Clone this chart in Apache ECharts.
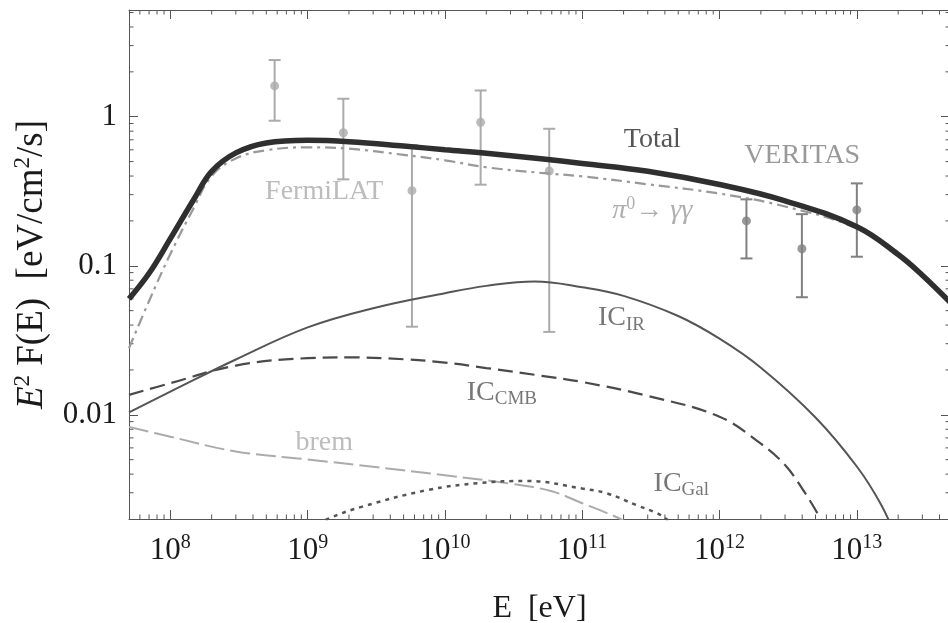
<!DOCTYPE html>
<html>
<head>
<meta charset="utf-8">
<script src="https://cdn.jsdelivr.net/npm/echarts@6/dist/echarts.min.js"></script>
<style>
  html, body { margin: 0; padding: 0; background: #fff; }
  #chart { width: 948px; height: 623px; }
</style>
</head>
<body>
<div id="chart"></div>
<script>
var FONT = '"Liberation Serif", "Times New Roman", serif';

// axis ranges and tick labels
var xMin = 5e7, xMax = 4.77e13;
var yMin = 0.002, yMax = 5.2;
var xMajorExp = [8, 9, 10, 11, 12, 13];
var yMajorVal = [0.01, 0.1, 1];
var yMajorText = ['0.01', '0.1', '1'];
var mantissas = [2, 3, 4, 5, 6, 7, 8, 9];

// model curves (E in eV, E^2 F(E) in eV/cm^2/s)
var totalE = [5e7, 7e7, 1e8, 1.5e8, 2e8, 3e8, 5e8, 1e9, 2e9, 5e9, 1e10, 2e10, 5e10, 1e11, 3e11, 1e12, 3e12, 1e13, 2e13, 3e13, 4.77e13];
var totalF = [0.060, 0.089, 0.152, 0.284, 0.43, 0.572, 0.667, 0.695, 0.68, 0.636, 0.60, 0.568, 0.522, 0.486, 0.431, 0.351, 0.273, 0.183, 0.119, 0.0865, 0.057];

var pionE = [5e7, 7e7, 1e8, 1.5e8, 2e8, 3e8, 5e8, 1e9, 2e9, 5e9, 1e10, 2e10, 5e10, 1e11, 3e11, 1e12, 3e12, 1e13, 2e13, 3e13, 4.77e13];
var pionF = [0.028, 0.058, 0.12, 0.25, 0.40, 0.525, 0.596, 0.623, 0.61, 0.555, 0.51, 0.458, 0.42, 0.398, 0.352, 0.305, 0.25, 0.178, 0.1175, 0.0855, 0.0565];

var icIrE = [5e7, 1e8, 3e8, 1e9, 3e9, 1e10, 2e10, 4.5e10, 1e11, 2e11, 5e11, 1e12, 2e12, 5e12, 1e13, 1.5e13, 2e13];
var icIrF = [0.0104, 0.0143, 0.0235, 0.0386, 0.0519, 0.0655, 0.0733, 0.0785, 0.0718, 0.0628, 0.046, 0.0324, 0.0207, 0.0096, 0.0045, 0.0025, 0.0014];

var icCmbE = [5e7, 1e8, 3e8, 1e9, 2e9, 5e9, 1e10, 2e10, 5e10, 1e11, 3e11, 1e12, 2e12, 3e12, 4e12, 5e12, 6e12];
var icCmbF = [0.0136, 0.0163, 0.0214, 0.024, 0.0243, 0.0236, 0.0224, 0.0206, 0.0183, 0.0166, 0.0134, 0.0097, 0.0064, 0.0046, 0.0032, 0.0023, 0.0017];

var bremE = [5e7, 1e8, 3e8, 1e9, 3e9, 1e10, 3e10, 6e10, 1e11, 1.5e11, 2e11, 2.5e11];
var bremF = [0.0083, 0.00713, 0.00568, 0.00502, 0.00448, 0.00393, 0.00345, 0.00307, 0.00255, 0.0022, 0.00195, 0.0017];

var icGalE = [1.2e9, 1.4e9, 2.5e9, 7.5e9, 1.74e10, 4e10, 1e11, 1.5e11, 2.5e11, 3.5e11, 4.1e11, 5e11];
var icGalF = [0.0018, 0.002, 0.00242, 0.00313, 0.00348, 0.0036, 0.0032, 0.00298, 0.00247, 0.00219, 0.002, 0.0017];

// data points with error bars
var fermiE = [5.75e8, 1.82e9, 5.75e9, 1.82e10, 5.75e10];
var fermiF = [1.61, 0.78, 0.319, 0.917, 0.432];
var fermiLo = [0.94, 0.38, 0.039, 0.35, 0.036];
var fermiHi = [2.4, 1.32, 0.645, 1.50, 0.83];

var veritasE = [1.57e12, 3.98e12, 1e13];
var veritasF = [0.2, 0.13, 0.237];
var veritasLo = [0.112, 0.0615, 0.115];
var veritasHi = [0.279, 0.222, 0.357];

// curve labels
var labelText = ['Total', 'VERITAS', '{i|\u03c0}{sup|0}\u2192 {i|\u03b3\u03b3}', 'FermiLAT', '{n|IC}{sub|IR}', '{n|IC}{sub|CMB}', 'brem', '{n|IC}{sub|Gal}'];
var labelE = [3.24e11, 4.0e12, 3.24e11, 1.32e9, 1.93e11, 2.6e10, 1.32e9, 5.27e11];
var labelF = [0.698, 0.545, 0.233, 0.3124, 0.0446, 0.01403, 0.00648, 0.00344];
var labelColor = ['#2a2a2a', '#7f7f7f', '#9a9a9a', '#ababab', '#555555', '#555555', '#ababab', '#555555'];

function pairs(xs, ys) {
  var out = [];
  for (var i = 0; i < xs.length; i++) out.push([xs[i], ys[i]]);
  return out;
}
function triples(xs, lo, hi) {
  var out = [];
  for (var i = 0; i < xs.length; i++) out.push([xs[i], lo[i], hi[i]]);
  return out;
}
function isDecade(v) {
  var e = Math.log10(v);
  return Math.abs(e - Math.round(e)) < 1e-6;
}

var minorX = [], minorY = [];
for (var e = 7; e <= 13; e++) {
  mantissas.forEach(function (m) {
    var v = m * Math.pow(10, e);
    if (v > xMin && v < xMax) minorX.push([v, yMin]);
  });
}
for (var k = -3; k <= 0; k++) {
  mantissas.forEach(function (m) {
    var v = m * Math.pow(10, k);
    if (v > yMin && v < yMax) minorY.push([xMin, v]);
  });
}

var tickColor = '#555';

function minorTickX(params, api) {
  var cs = params.coordSys;
  var p = api.coord([api.value(0), yMin]);
  var st = { stroke: tickColor, lineWidth: 1 };
  return { type: 'group', children: [
    { type: 'line', shape: { x1: p[0], y1: cs.y + cs.height, x2: p[0], y2: cs.y + cs.height - 4.5 }, style: st },
    { type: 'line', shape: { x1: p[0], y1: cs.y, x2: p[0], y2: cs.y + 4.5 }, style: st }
  ]};
}
function minorTickY(params, api) {
  var cs = params.coordSys;
  var p = api.coord([xMin, api.value(1)]);
  var st = { stroke: tickColor, lineWidth: 1 };
  return { type: 'group', children: [
    { type: 'line', shape: { x1: cs.x, y1: p[1], x2: cs.x + 4.5, y2: p[1] }, style: st },
    { type: 'line', shape: { x1: cs.x + cs.width, y1: p[1], x2: cs.x + cs.width - 4.5, y2: p[1] }, style: st }
  ]};
}
function errorBars(color) {
  return function (params, api) {
    var x = api.value(0);
    var lo = api.coord([x, api.value(1)]);
    var hi = api.coord([x, api.value(2)]);
    var w = 6;
    var st = { stroke: color, lineWidth: 2 };
    return { type: 'group', children: [
      { type: 'line', shape: { x1: lo[0], y1: lo[1], x2: hi[0], y2: hi[1] }, style: st },
      { type: 'line', shape: { x1: lo[0] - w, y1: lo[1], x2: lo[0] + w, y2: lo[1] }, style: st },
      { type: 'line', shape: { x1: hi[0] - w, y1: hi[1], x2: hi[0] + w, y2: hi[1] }, style: st }
    ]};
  };
}

function curve(name, xs, ys, color, width, dash, z) {
  return {
    name: name, type: 'line', data: pairs(xs, ys),
    showSymbol: false, smooth: 0.4, z: z || 3,
    lineStyle: { color: color, width: width, type: dash || 'solid', cap: 'butt' }
  };
}

var labelRich = {
  n: { fontFamily: FONT, fontSize: 28, lineHeight: 32 },
  sub: { fontFamily: FONT, fontSize: 19, lineHeight: 20, verticalAlign: 'bottom' },
  i: { fontFamily: FONT, fontSize: 28, fontStyle: 'italic', lineHeight: 32 },
  sup: { fontFamily: FONT, fontSize: 18, lineHeight: 20, verticalAlign: 'top' }
};

var labelData = labelText.map(function (t, i) {
  return {
    value: [labelE[i], labelF[i]],
    label: { formatter: t, color: labelColor[i], rich: labelRich }
  };
});

var xAxisBase = {
  type: 'log', logBase: 10, min: xMin, max: xMax,
  axisLine: { show: true, onZero: false, lineStyle: { color: tickColor, width: 1 } },
  axisTick: { show: true, inside: true, length: 9, lineStyle: { color: tickColor } },
  splitLine: { show: false },
  minorTick: { show: false }
};
var yAxisBase = {
  type: 'log', logBase: 10, min: yMin, max: yMax,
  axisLine: { show: true, onZero: false, lineStyle: { color: tickColor, width: 1 } },
  axisTick: { show: true, inside: true, length: 9, lineStyle: { color: tickColor } },
  splitLine: { show: false },
  minorTick: { show: false }
};

var chart = echarts.init(document.getElementById('chart'), null, { renderer: 'canvas' });
chart.setOption({
  backgroundColor: '#fff',
  animation: false,
  grid: { left: 129, top: 10, width: 821, height: 509, containLabel: false, outerBoundsMode: 'none' },
  xAxis: [
    Object.assign({}, xAxisBase, {
      position: 'bottom',
      name: 'E  [eV]', nameLocation: 'middle', nameGap: 74,
      nameTextStyle: { fontFamily: FONT, fontSize: 32, color: '#1a1a1a' },
      axisLabel: {
        show: true, margin: 14, interval: 0, color: '#1a1a1a', fontFamily: FONT,
        formatter: function (v) {
          if (!isDecade(v)) return '';
          var ex = Math.round(Math.log10(v));
          if (xMajorExp.indexOf(ex) < 0) return '';
          return '{b|10}{s|' + ex + '}';
        },
        rich: {
          b: { fontFamily: FONT, fontSize: 31, lineHeight: 35, color: '#1a1a1a' },
          s: { fontFamily: FONT, fontSize: 20, lineHeight: 21, verticalAlign: 'top', color: '#1a1a1a' }
        }
      }
    }),
    Object.assign({}, xAxisBase, { position: 'top', axisLabel: { show: false } })
  ],
  yAxis: [
    Object.assign({}, yAxisBase, {
      position: 'left',
      name: '{i|E}{s|2} F(E)  [eV/cm{s|2}/s]', nameLocation: 'middle', nameGap: 76, nameRotate: 90,
      nameTextStyle: {
        fontFamily: FONT, fontSize: 37, color: '#1a1a1a', lineHeight: 40,
        rich: {
          i: { fontFamily: FONT, fontSize: 37, fontStyle: 'italic', lineHeight: 40, color: '#1a1a1a' },
          s: { fontFamily: FONT, fontSize: 23, lineHeight: 24, verticalAlign: 'top', color: '#1a1a1a' }
        }
      },
      axisLabel: {
        show: true, margin: 12, interval: 0, color: '#1a1a1a', fontFamily: FONT, fontSize: 31,
        formatter: function (v) {
          for (var i = 0; i < yMajorVal.length; i++) {
            if (Math.abs(Math.log10(v) - Math.log10(yMajorVal[i])) < 1e-6) return yMajorText[i];
          }
          return '';
        }
      }
    }),
    Object.assign({}, yAxisBase, { position: 'right', axisLabel: { show: false } })
  ],
  series: [
    { type: 'custom', renderItem: minorTickX, data: minorX, encode: { x: 0, y: 1 }, silent: true, z: 1 },
    { type: 'custom', renderItem: minorTickY, data: minorY, encode: { x: 0, y: 1 }, silent: true, z: 1 },
    { name: 'FermiLAT bars', type: 'custom', renderItem: errorBars('#ababab'), data: triples(fermiE, fermiLo, fermiHi), encode: { x: 0, y: [1, 2] }, silent: true, z: 2 },
    { name: 'VERITAS bars', type: 'custom', renderItem: errorBars('#808080'), data: triples(veritasE, veritasLo, veritasHi), encode: { x: 0, y: [1, 2] }, silent: true, z: 2 },
    { name: 'FermiLAT', type: 'scatter', data: pairs(fermiE, fermiF), symbol: 'circle', symbolSize: 9, itemStyle: { color: '#ababab' }, z: 2 },
    { name: 'VERITAS', type: 'scatter', data: pairs(veritasE, veritasF), symbol: 'circle', symbolSize: 9, itemStyle: { color: '#808080' }, z: 2 },
    curve('brem', bremE, bremF, '#ababab', 2, [20, 6]),
    curve('IC Gal', icGalE, icGalF, '#555', 2.5, [4, 5]),
    curve('IC CMB', icCmbE, icCmbF, '#4a4a4a', 2.2, [15, 7]),
    curve('IC IR', icIrE, icIrF, '#555', 2),
    curve('pi0', pionE, pionF, '#999', 2.2, [11, 5, 3, 5]),
    curve('Total', totalE, totalF, '#2f2f2f', 5.5, 'solid', 4),
    {
      name: 'labels', type: 'scatter', data: labelData, symbolSize: 0, silent: true, z: 5,
      label: { show: true, position: 'inside', fontFamily: FONT, fontSize: 28 }
    }
  ]
});
</script>
</body>
</html>
